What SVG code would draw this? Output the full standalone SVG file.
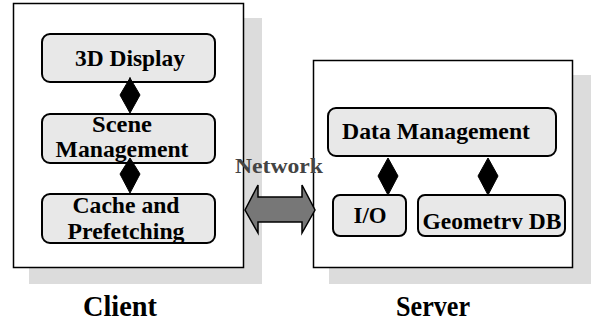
<svg xmlns="http://www.w3.org/2000/svg" width="591" height="325" viewBox="0 0 591 325">
<style>
.shadow{fill:#dcdcdc;stroke:none}
.frame{fill:#fff;stroke:#000;stroke-width:1.5}
.box{fill:#e8e8e8;stroke:#000;stroke-width:2}
.t{font-family:"Liberation Serif","Times New Roman",serif;font-weight:bold;fill:#000;text-anchor:middle}
.dia{fill:#000;stroke:#000;stroke-width:1}
</style>
<defs>
<clipPath id="geoclip"><rect x="418" y="195" width="147" height="34"/></clipPath>
</defs>
<g id="client">
<rect class="shadow" x="29" y="18" width="233" height="266"/>
<rect class="frame" x="13.5" y="3.5" width="230" height="264"/>
</g>
<g id="server">
<rect class="shadow" x="329" y="75" width="262" height="209"/>
<rect class="frame" x="313.5" y="60.5" width="259" height="207"/>
</g>
<g id="display3d">
<rect class="box" x="42" y="34" width="173" height="48" rx="8"/>
<text class="t" x="130" y="66" font-size="23" textLength="110" lengthAdjust="spacingAndGlyphs">3D Display</text>
</g>
<g id="scene">
<rect class="box" x="42" y="114" width="173" height="49" rx="8"/>
<text class="t" x="122" y="132" font-size="23" textLength="60" lengthAdjust="spacingAndGlyphs">Scene</text>
<text class="t" x="122" y="157" font-size="23" textLength="133" lengthAdjust="spacingAndGlyphs">Management</text>
</g>
<g id="cache">
<rect class="box" x="42" y="194" width="173" height="49" rx="8"/>
<text class="t" x="126" y="213" font-size="23" textLength="107" lengthAdjust="spacingAndGlyphs">Cache and</text>
<text class="t" x="126" y="239" font-size="23" textLength="117" lengthAdjust="spacingAndGlyphs">Prefetching</text>
</g>
<g id="datamgmt">
<rect class="box" x="328" y="108" width="228" height="48" rx="8"/>
<text class="t" x="436" y="139" font-size="23" textLength="188" lengthAdjust="spacingAndGlyphs">Data Management</text>
</g>
<g id="io">
<rect class="box" x="333" y="195" width="73" height="41" rx="7"/>
<text class="t" x="370" y="223" font-size="23" textLength="33" lengthAdjust="spacingAndGlyphs">I/O</text>
</g>
<g id="geometry">
<rect class="box" x="418" y="195" width="147" height="41" rx="7"/>
<text class="t" x="492" y="229" font-size="23" textLength="139" lengthAdjust="spacingAndGlyphs" clip-path="url(#geoclip)">Geometry DB</text>
</g>
<g id="labels">
<text class="t" x="120" y="316" font-size="30" textLength="74" lengthAdjust="spacingAndGlyphs">Client</text>
<text class="t" x="433" y="316" font-size="30" textLength="74" lengthAdjust="spacingAndGlyphs">Server</text>
<text class="t" x="279" y="173" font-size="22" textLength="88" lengthAdjust="spacingAndGlyphs" style="fill:#444">Network</text>
</g>
<g id="connectors">
<line x1="130" y1="77" x2="130" y2="82" stroke="#000" stroke-width="1"/>
<polygon class="dia" points="130,78 140,95 130,113 120,95"/>
<polygon class="dia" points="130,158 140,174 130,193 120,174"/>
<polygon class="dia" points="388,158 398,176 388,195 378,176"/>
<polygon class="dia" points="488,158 498,176 488,195 478,176"/>
<polygon points="245,210 258,185 258,197 302,197 302,185 315,210 302,233 302,222 258,222 258,233" fill="#777" stroke="#000" stroke-width="1.5" stroke-linejoin="miter"/>
</g>
</svg>
